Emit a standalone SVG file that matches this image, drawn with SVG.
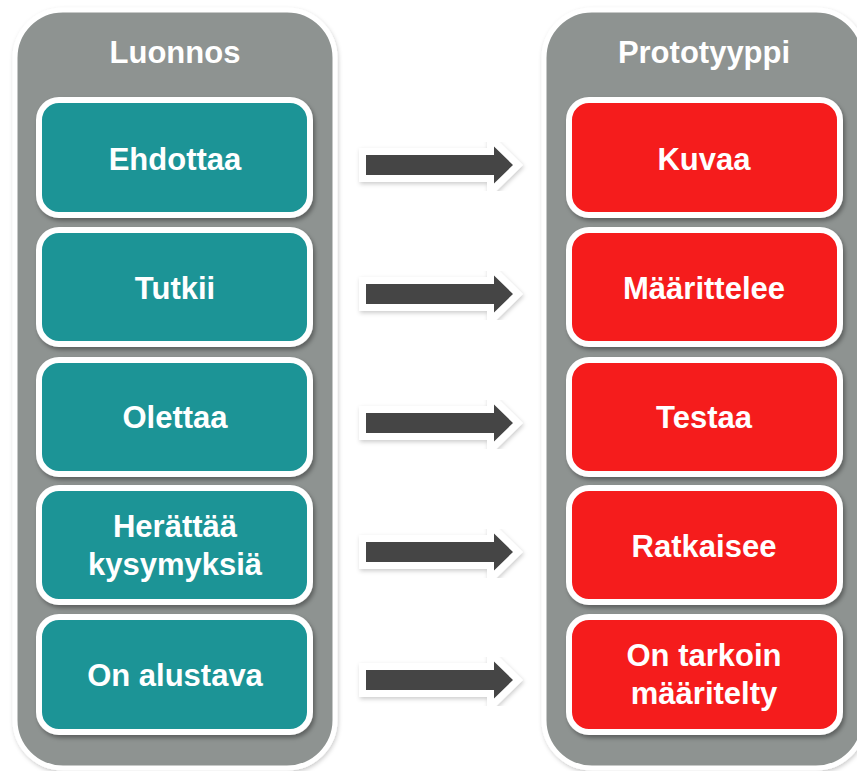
<svg xmlns="http://www.w3.org/2000/svg" width="857" height="771" viewBox="0 0 857 771">
<defs>
<filter id="sh" x="-10%" y="-10%" width="130%" height="130%">
<feDropShadow dx="2" dy="3" stdDeviation="2" flood-color="#000" flood-opacity="0.35"/>
</filter>
<filter id="shp" x="-10%" y="-10%" width="130%" height="130%">
<feDropShadow dx="1" dy="2" stdDeviation="2" flood-color="#000" flood-opacity="0.2"/>
</filter>
<style>
.panel{fill:#8e9391;stroke:#fff;stroke-width:5;filter:url(#shp)}
.teal{fill:#1a9496;stroke:#fff;stroke-width:6;filter:url(#sh)}
.red{fill:#f51b1e;stroke:#fff;stroke-width:6;filter:url(#sh)}
text{font-family:"Liberation Sans",Arial,sans-serif;font-weight:bold;font-size:31px;fill:#fff;text-anchor:middle}
.aw{fill:#fff;stroke:#fff;stroke-width:14;stroke-linejoin:miter;filter:url(#shp)}
.ad{fill:#454545}
</style>
<g id="arrow"><polygon class="aw" points="366,-10 494,-10 494,-18.5 513,0 494,18.5 494,10 366,10"/><polygon class="ad" points="366,-10 494,-10 494,-18.5 513,0 494,18.5 494,10 366,10"/></g>
</defs>
<rect width="857" height="771" fill="#fff"/>
<g id="luonnos">
<rect class="panel" x="15" y="10" width="320" height="758" rx="48"/>
<text x="175" y="63">Luonnos</text>
</g>
<g id="prototyyppi">
<rect class="panel" x="544" y="10" width="320" height="758" rx="48"/>
<text x="704" y="63">Prototyyppi</text>
</g>
<g id="l1"><rect class="teal" x="39" y="100" width="271" height="115" rx="20"/><text x="175" y="170">Ehdottaa</text></g>
<g id="l2"><rect class="teal" x="39" y="230" width="271" height="114" rx="20"/><text x="175" y="299">Tutkii</text></g>
<g id="l3"><rect class="teal" x="39" y="360" width="271" height="114" rx="20"/><text x="175" y="428">Olettaa</text></g>
<g id="l4"><rect class="teal" x="39" y="488" width="271" height="114" rx="20"/><text x="175" y="537">Herättää</text><text x="175" y="575">kysymyksiä</text></g>
<g id="l5"><rect class="teal" x="39" y="617" width="271" height="115" rx="20"/><text x="175" y="686">On alustava</text></g>
<g id="r1"><rect class="red" x="569" y="100" width="271" height="115" rx="20"/><text x="704" y="170">Kuvaa</text></g>
<g id="r2"><rect class="red" x="569" y="230" width="271" height="114" rx="20"/><text x="704" y="299">Määrittelee</text></g>
<g id="r3"><rect class="red" x="569" y="360" width="271" height="114" rx="20"/><text x="704" y="428">Testaa</text></g>
<g id="r4"><rect class="red" x="569" y="488" width="271" height="114" rx="20"/><text x="704" y="557">Ratkaisee</text></g>
<g id="r5"><rect class="red" x="569" y="617" width="271" height="115" rx="20"/><text x="704" y="666">On tarkoin</text><text x="704" y="704">määritelty</text></g>
<g id="connectors">
<use href="#arrow" x="0" y="165"/>
<use href="#arrow" x="0" y="294"/>
<use href="#arrow" x="0" y="423"/>
<use href="#arrow" x="0" y="552"/>
<use href="#arrow" x="0" y="680"/>
</g>
</svg>
